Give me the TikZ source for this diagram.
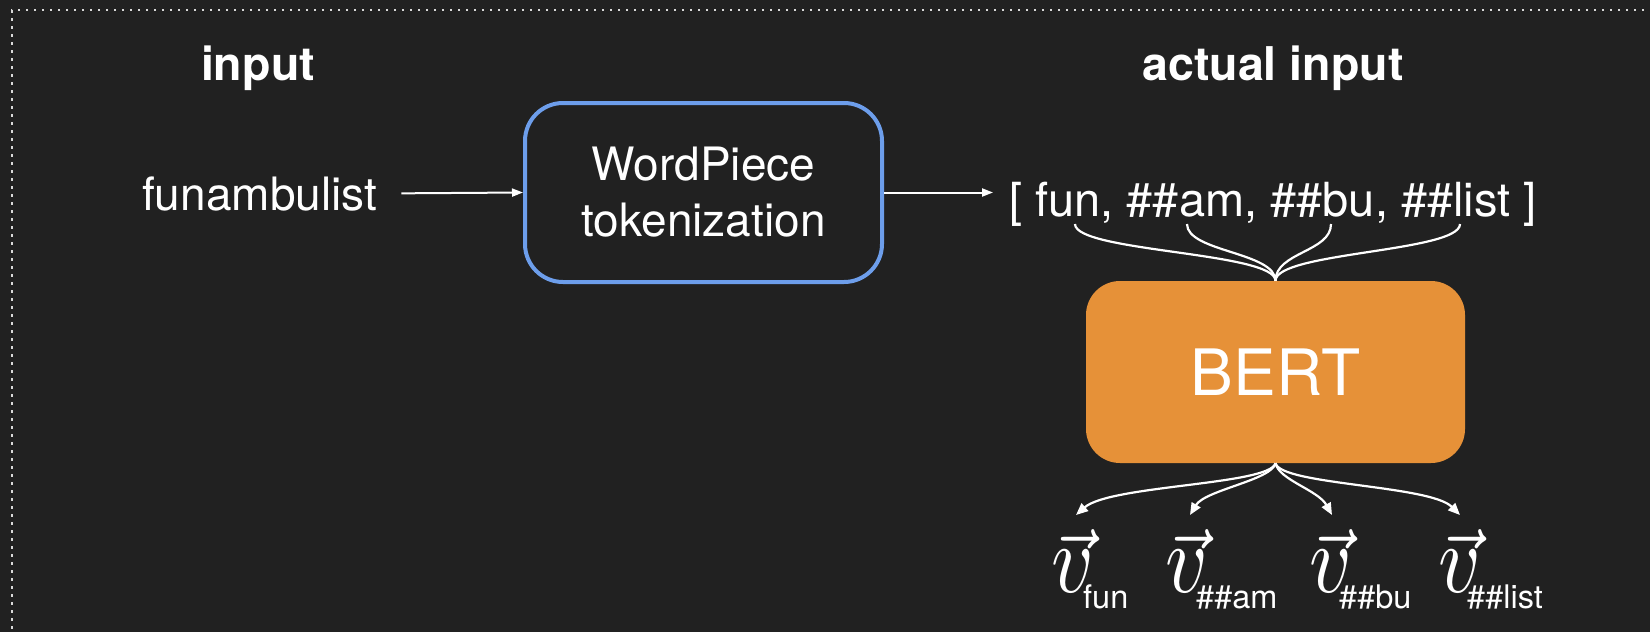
\documentclass[tikz,border=0pt]{standalone}
\usepackage{graphicx}
\usepackage{fontspec}
\setmainfont{TeX Gyre Heros}
\usetikzlibrary{arrows.meta}
\definecolor{bg}{HTML}{212121}
\definecolor{wpblue}{HTML}{6D9EEB}
\definecolor{bertorange}{HTML}{E69138}
\definecolor{dotc}{HTML}{D9D9D9}
\newcommand{\myvecv}{\rlap{\kern-0.8pt\raisebox{-0.8pt}{\scalebox{1.06}[1]{\usefont{OML}{cmm}{m}{it}\char126}}}$v$}
\begin{document}
\begin{tikzpicture}[x=1pt,y=-1pt,
  txt/.style={text=white, inner sep=0pt, font=\fontsize{46}{56}\selectfont},
  hd/.style={text=white, inner sep=0pt, font=\fontsize{46.5}{56}\selectfont\bfseries},
  wpbox/.style={draw=wpblue, line width=4pt, rounded corners=38pt, minimum width=357pt, minimum height=179pt, text=white, align=center, inner sep=0pt, font=\fontsize{46}{56}\selectfont},
  bertbox/.style={fill=bertorange, rounded corners=34pt, minimum width=379pt, minimum height=182pt, text=white, inner sep=0pt, font=\fontsize{64}{70}\selectfont},
  conn/.style={draw=white, line width=2.2pt},
  harr/.style={draw=white, line width=2pt, -{Triangle[length=11pt,width=8pt]}},
  carr/.style={conn, -{Triangle[length=12pt,width=10pt]}},
  vecv/.style={text=white, inner sep=0pt, xscale=8.2, yscale=9.8, font=\fontsize{10}{10}\selectfont},
  subs/.style={text=white, inner sep=0pt, font=\fontsize{32.5}{40}\selectfont},
]
\fill[bg] (0,0) rectangle (1650,632);
\useasboundingbox (0,0) rectangle (1650,632);
\draw[dotc, line width=2.5pt, dash pattern=on 2.5pt off 5.5pt] (1660,10) -- (12,10) -- (12,640);

% headings
\node[hd, anchor=base] (hin) at (258,80) {input};
\node[hd, anchor=base] (hact) at (1273,80) {actual input};

% input word
\node[txt, anchor=base west] (word) at (142,210) {funambulist};

% tokenizer
\node[wpbox] (wp) at (703.5,192.5) {WordPiece\\tokenization};

% tokens
\node[txt, anchor=base, font=\fontsize{47}{56}\selectfont] (toks) at (1273,216) {[ fun, \#\#am, \#\#bu, \#\#list ]};
\coordinate (tfun) at (1075,224);
\coordinate (tam) at (1187,224);
\coordinate (tbu) at (1331,224);
\coordinate (tlist) at (1460,224);

% BERT
\node[bertbox] (bert) at (1275.5,372) {BERT};

% horizontal arrows
\draw[harr, shorten <=24pt] (word.east) -- (wp.west);
\draw[harr] (wp.east) -- ([xshift=-16pt]wp.east -| toks.west);

% token curves into BERT
\draw[conn] (tfun) .. controls (1075,252) and (1275.5,252) .. (bert.north);
\draw[conn] (tam) .. controls (1187,252) and (1275.5,252) .. (bert.north);
\draw[conn] (tbu) .. controls (1331,252) and (1275.5,252) .. (bert.north);
\draw[conn] (tlist) .. controls (1460,252) and (1275.5,252) .. (bert.north);

% output vectors
\coordinate (ofun) at (1076,515);
\coordinate (oam) at (1190,515);
\coordinate (obu) at (1332,515);
\coordinate (olist) at (1460,515);
\draw[carr] (bert.south) .. controls (1270,485) and (1110,485) .. (ofun);
\draw[carr] (bert.south) .. controls (1272,480) and (1205,490) .. (oam);
\draw[carr] (bert.south) .. controls (1279,480) and (1318,490) .. (obu);
\draw[carr] (bert.south) .. controls (1281,485) and (1430,485) .. (olist);

\node[vecv, anchor=base west] (v1) at (1050,592) {\myvecv};
\node[subs, anchor=base west] (s1) at (1083,608) {fun};
\node[vecv, anchor=base west] (v2) at (1164,592) {\myvecv};
\node[subs, anchor=base west] (s2) at (1196,608) {\#\#am};
\node[vecv, anchor=base west] (v3) at (1308,592) {\myvecv};
\node[subs, anchor=base west] (s3) at (1339,608) {\#\#bu};
\node[vecv, anchor=base west] (v4) at (1437,592) {\myvecv};
\node[subs, anchor=base west] (s4) at (1467,608) {\#\#list};
\end{tikzpicture}
\end{document}
